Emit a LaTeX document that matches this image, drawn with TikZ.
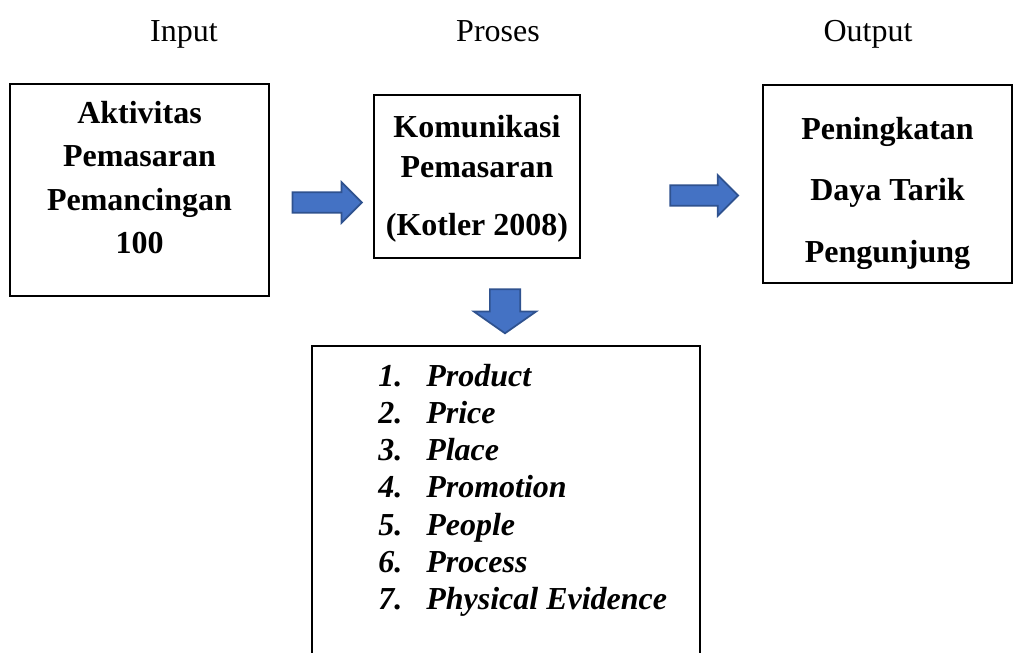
\documentclass[tikz,border=0pt]{standalone}
\usepackage{fontspec}
\setmainfont{Liberation Serif}
\usetikzlibrary{positioning}
\usetikzlibrary{shapes.arrows}

\definecolor{arrowblue}{HTML}{4472C4}
\definecolor{arrowedge}{HTML}{2F528F}

\begin{document}
\begin{tikzpicture}[
        x = 0.75pt, y = -0.75pt,
        box/.style 2 args = {
            draw,
            line width = 0.9pt,
            minimum width = #1,
            minimum height = #2,
            inner sep = 0pt,
            outer sep = 0pt
        },
        txt/.style = {
            align = center,
            inner sep = 0pt,
            font = \fontsize{24}{#1}\selectfont\bfseries
        },
        txt/.default = 32.5pt,
        title/.style = {
            anchor = base,
            inner sep = 0pt,
            font = \fontsize{24}{28}\selectfont
        },
        blockarrow/.style = {
            single arrow,
            draw = arrowedge,
            fill = arrowblue,
            line width = 1.3pt,
            inner sep = #1,
            single arrow head extend = 7.5pt,
            minimum height = 52pt
        },
        blockarrow/.default = 7.1pt
    ]
    \clip (0,0) rectangle (1025,653);

    % column titles
    \node[title] (input) at (184,41) {Input};
    \node[title] (proses) at (498,41) {Proses};
    \node[title] (output) at (868,41) {Output};

    % boxes
    \node[box={194.25pt}{159pt}] (aktivitas) at (139.5,190) {};
    \node[box={154.5pt}{122.25pt}] (komunikasi) at (477,176.5) {};
    \node[box={186.75pt}{148.5pt}] (peningkatan) at (887.5,184) {};
    \node[box={291pt}{280.5pt}] (bauran) at (506,533) {};

    \node[txt, anchor=north] at (139.5,101) {Aktivitas\\Pemasaran\\Pemancingan\\100};
    \node[txt=30pt, anchor=north] at (477,115) {Komunikasi\\Pemasaran\\[13.5pt](Kotler 2008)};
    \node[txt=46pt, anchor=north] at (887.5,117) {Peningkatan\\Daya Tarik\\Pengunjung};

    \node[anchor=north west, align=left, inner sep=0pt,
          font=\fontsize{24}{27.85}\selectfont\bfseries\itshape] (list) at (378,364)
        {\makebox[36pt][l]{1.}Product\\
         \makebox[36pt][l]{2.}Price\\
         \makebox[36pt][l]{3.}Place\\
         \makebox[36pt][l]{4.}Promotion\\
         \makebox[36pt][l]{5.}People\\
         \makebox[36pt][l]{6.}Process\\
         \makebox[36pt][l]{7.}Physical Evidence};

    % arrows
    \node[blockarrow] (arrowA) at (322,202.5) {};
    \node[blockarrow, minimum height=51pt] (arrowB) at (699,195.5) {};
    \node[blockarrow=10.7pt, shape border rotate=270, minimum height=33pt,
          single arrow head extend=12pt, single arrow tip angle=110] (arrowC) at (505,306) {};
\end{tikzpicture}
\end{document}
